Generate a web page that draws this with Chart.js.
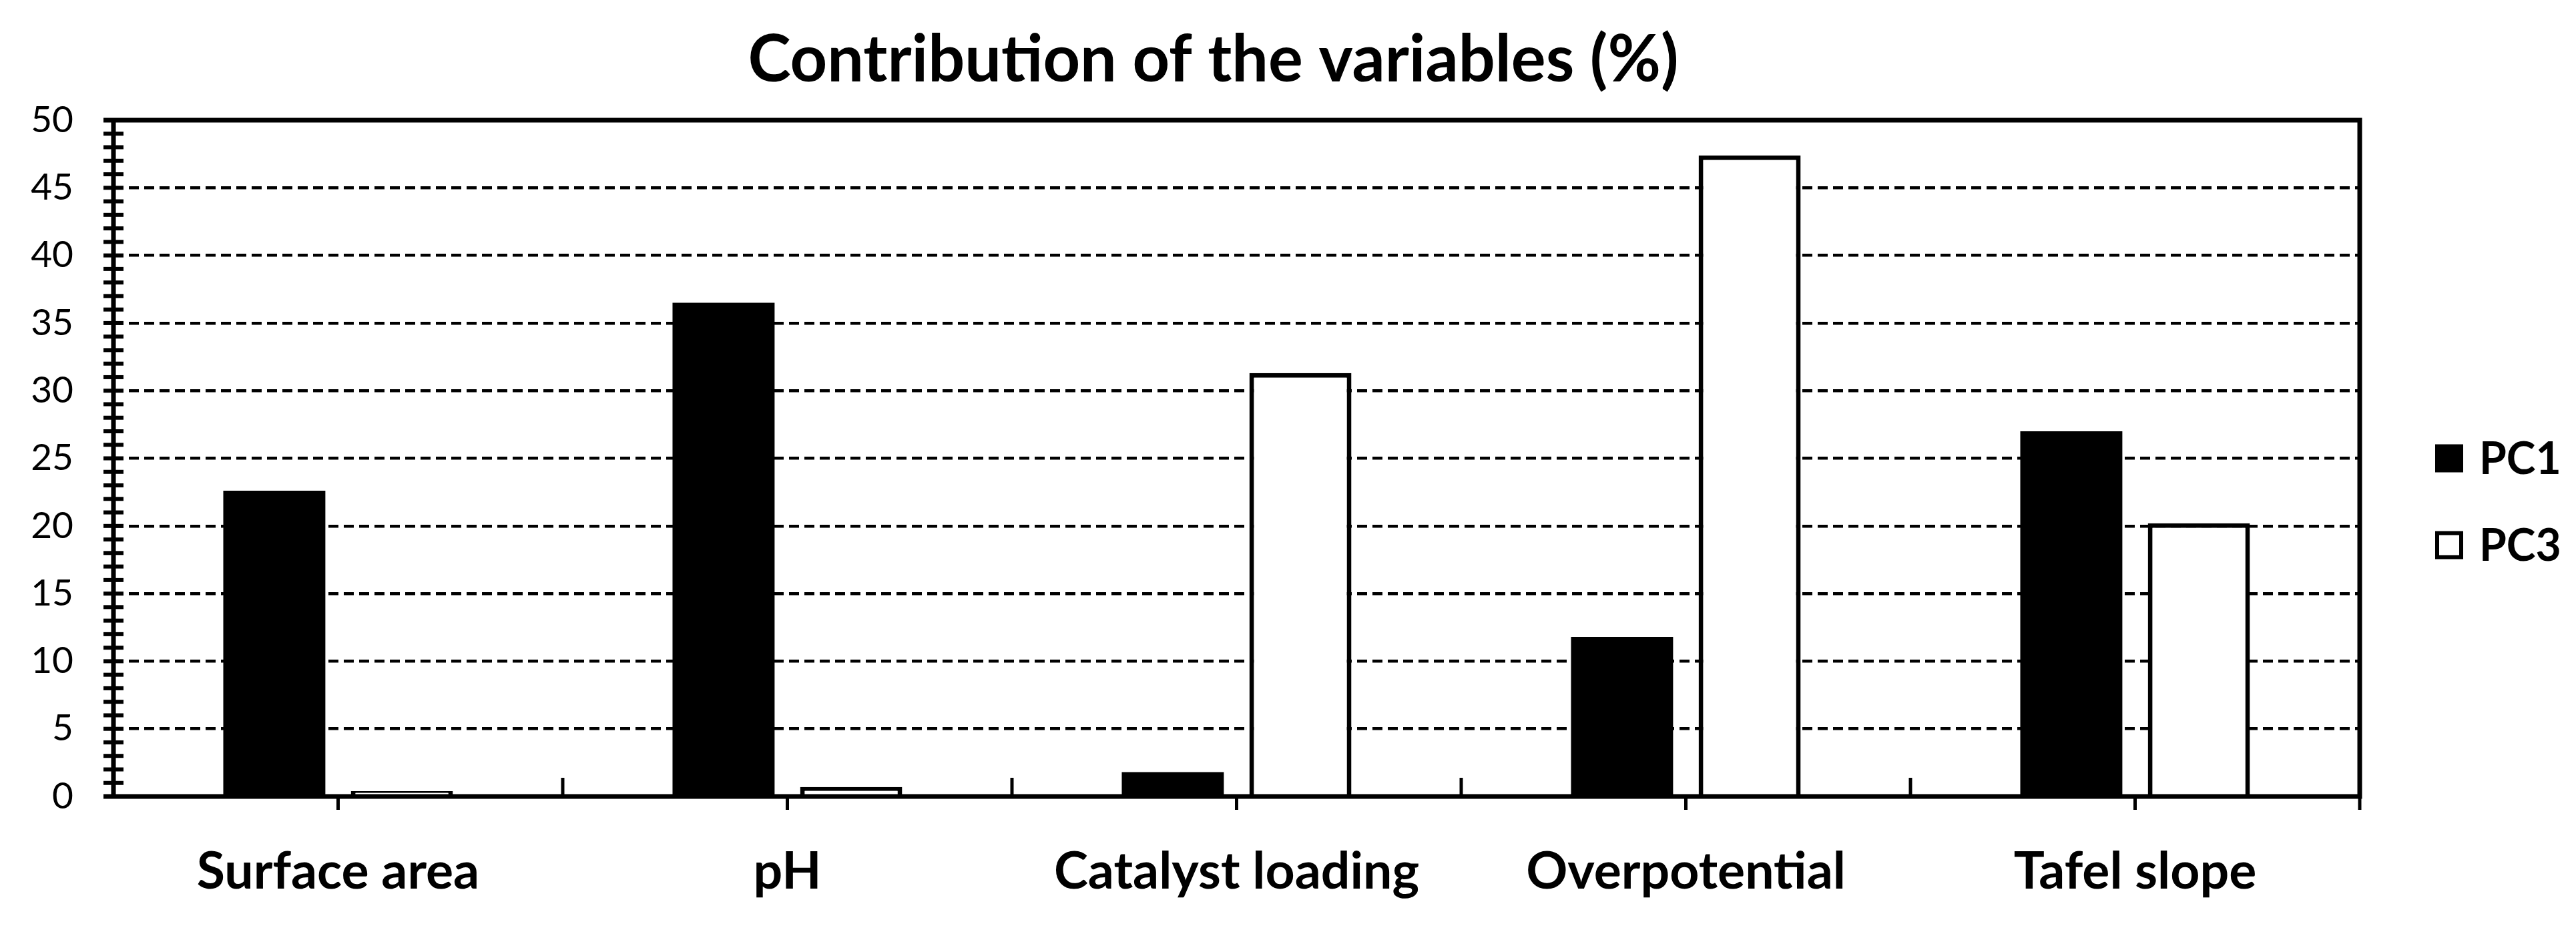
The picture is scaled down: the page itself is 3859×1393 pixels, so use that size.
<!DOCTYPE html>
<html>
<head>
<meta charset="utf-8">
<title>Contribution of the variables (%)</title>
<script src="https://cdn.jsdelivr.net/npm/chart.js@4.4.1/dist/chart.umd.min.js"></script>
<style>
  html, body { margin: 0; padding: 0; background: #fff; overflow: hidden; }
  canvas { display: block; }
</style>
</head>
<body>
<canvas id="contribChart" width="3859" height="1393"></canvas>
<script>
const categories = ['Surface area', 'pH', 'Catalyst loading', 'Overpotential', 'Tafel slope'];
const pc1Values = [22.6, 36.5, 1.8, 11.8, 27.0];
const pc3Values = [0.4, 0.7, 31.3, 47.4, 20.2];
const seriesLabels = ['PC1', 'PC3'];
const yMin = 0;
const yMax = 50;
const yStep = 5;
const yMinorStep = 1;

// frame, cross ticks on the y axis and the small ticks on the category axis
const axisDecor = {
    id: 'axisDecor',
    afterLayout(chart) {
        // the original title sits a bit right of the canvas centre
        if (chart.titleBlock) {
            chart.titleBlock.left += 50;
            chart.titleBlock.right += 50;
        }
    },
    afterDatasetsDraw(chart) {
        const { ctx, chartArea: a, scales: { x, y } } = chart;
        ctx.save();
        ctx.strokeStyle = '#000';
        ctx.setLineDash([]);
        ctx.lineCap = 'butt';
        ctx.lineJoin = 'miter';

        ctx.lineWidth = 6;
        for (let v = yMin; v <= yMax; v += yMinorStep) {
            const py = y.getPixelForValue(v);
            ctx.beginPath();
            ctx.moveTo(a.left - 15, py);
            ctx.lineTo(a.left + 15, py);
            ctx.stroke();
        }

        ctx.lineWidth = 7;
        ctx.beginPath();
        ctx.moveTo(a.left - 15, a.top);
        ctx.lineTo(a.right, a.top);
        ctx.lineTo(a.right, a.bottom);
        ctx.lineTo(a.left - 15, a.bottom);
        ctx.moveTo(a.left, a.top);
        ctx.lineTo(a.left, a.bottom);
        ctx.stroke();

        ctx.lineWidth = 5;
        categories.forEach((c, i) => {
            const cx = x.getPixelForValue(i);
            ctx.beginPath();
            ctx.moveTo(cx, a.bottom);
            ctx.lineTo(cx, a.bottom + 20);
            ctx.stroke();
            if (i > 0) {
                const bx = (cx + x.getPixelForValue(i - 1)) / 2;
                ctx.beginPath();
                ctx.moveTo(bx, a.bottom);
                ctx.lineTo(bx, a.bottom - 28);
                ctx.stroke();
            }
        });
        ctx.beginPath();
        ctx.moveTo(a.right, a.bottom);
        ctx.lineTo(a.right, a.bottom + 20);
        ctx.stroke();
        ctx.restore();
    }
};

// legend to the right of the plot, like the original
const sideLegend = {
    id: 'sideLegend',
    afterDraw(chart) {
        const { ctx, chartArea: a } = chart;
        const midY = (a.top + a.bottom) / 2;
        ctx.save();
        ctx.font = 'bold 66px Lato';
        ctx.textBaseline = 'middle';
        chart.data.datasets.forEach((ds, i) => {
            const cy = midY + i * 130;
            const bx = a.right + 113;
            ctx.fillStyle = ds.backgroundColor;
            ctx.fillRect(bx, cy - 21, 42, 42);
            if (ds.borderWidth) {
                ctx.lineWidth = 6;
                ctx.strokeStyle = ds.borderColor;
                ctx.strokeRect(bx + 3, cy - 18, 36, 36);
            }
            ctx.fillStyle = '#000';
            ctx.fillText(ds.label, a.right + 179, cy + 2);
        });
        ctx.restore();
    }
};

function drawChart() {
    const ctx = document.getElementById('contribChart').getContext('2d');
    new Chart(ctx, {
        type: 'bar',
        data: {
            labels: categories,
            datasets: [{
                label: seriesLabels[0],
                data: pc1Values,
                backgroundColor: '#000',
                borderWidth: 0
            }, {
                label: seriesLabels[1],
                data: pc3Values,
                backgroundColor: '#fff',
                borderColor: '#000',
                borderWidth: 7
            }]
        },
        options: {
            responsive: false,
            animation: false,
            devicePixelRatio: 1,
            layout: { padding: { left: 0, right: 324, top: 0, bottom: 0 } },
            datasets: { bar: { categoryPercentage: 0.568, barPercentage: 0.80 } },
            plugins: {
                legend: { display: false },
                tooltip: { enabled: false },
                title: {
                    display: true,
                    text: 'Contribution of the variables (%)',
                    color: '#000',
                    font: { family: 'Lato', size: 97, weight: 'bold', lineHeight: 1 },
                    padding: { top: 42, bottom: 41 }
                }
            },
            scales: {
                x: {
                    grid: { display: false, drawTicks: false },
                    border: { display: false },
                    ticks: {
                        color: '#000',
                        font: { family: 'Lato', size: 77, weight: 'bold', lineHeight: 1 },
                        padding: 75,
                        maxRotation: 0,
                        autoSkip: false
                    },
                    afterFit(scale) { scale.height = 200; }
                },
                y: {
                    min: yMin,
                    max: yMax,
                    grid: {
                        color: c => (c.tick.value === yMin || c.tick.value === yMax) ? 'rgba(0,0,0,0)' : '#000',
                        lineWidth: 4.5,
                        drawTicks: false
                    },
                    border: { display: false, dash: [15, 8] },
                    ticks: {
                        stepSize: yStep,
                        color: '#000',
                        font: { family: 'Lato', size: 55, lineHeight: 1 },
                        padding: 60
                    },
                    afterFit(scale) { scale.width = 170; }
                }
            }
        },
        plugins: [axisDecor, sideLegend]
    });
}

Promise.all([
    document.fonts.load('bold 97px Lato'),
    document.fonts.load('55px Lato')
]).catch(() => {}).then(drawChart);
</script>
</body>
</html>
